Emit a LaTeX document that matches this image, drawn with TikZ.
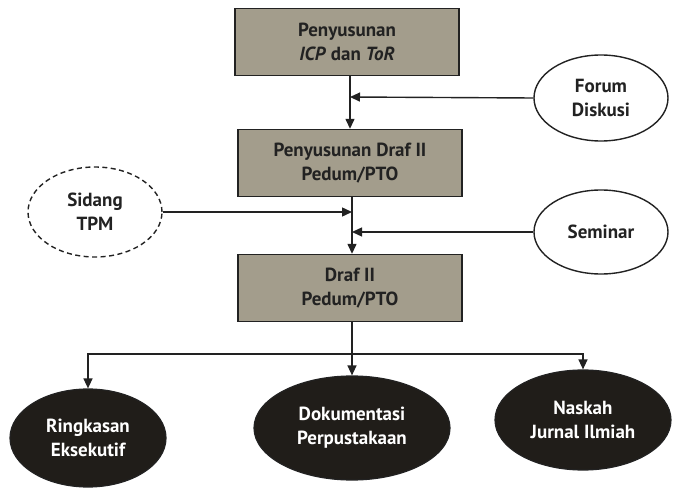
\documentclass[tikz,border=0pt]{standalone}
\usepackage{fontspec}
\setmainfont{PT Sans}
\usetikzlibrary{arrows.meta,shapes.geometric}
\definecolor{boxfill}{HTML}{A39D8C}
\definecolor{darkfill}{HTML}{201D19}
\definecolor{ink}{HTML}{222222}
\begin{document}
\begin{tikzpicture}[x=1pt,y=-1pt,
  lbl/.style={font=\bfseries\fontsize{19}{24}\selectfont},
  stagebox/.style={draw=ink,line width=1.4pt,fill=boxfill,minimum width=224pt,minimum height=67pt,
    align=center,lbl,text=ink,inner sep=0pt},
  inputell/.style={ellipse,draw=ink,line width=1.4pt,fill=white,align=center,
    lbl,text=ink,inner sep=0pt},
  outputell/.style={ellipse,draw=ink,line width=1.2pt,fill=darkfill,align=center,
    lbl,text=white,inner sep=0pt},
  flow/.style={draw=ink,line width=1.4pt},
  flowarr/.style={flow,-{Triangle[length=10pt,width=9pt]}}]
\useasboundingbox (0,0) rectangle (673,492);

% process boxes
\node[stagebox] (b1) at (347,42) {Penyusunan\\\textit{ICP} dan \textit{ToR}};
\node[stagebox] (b2) at (350,163) {Penyusunan Draf II\\Pedum/PTO};
\node[stagebox] (b3) at (350,288) {Draf II\\Pedum/PTO};

% inputs
\node[inputell,minimum width=134pt,minimum height=86pt] (fd) at (601,98) {Forum\\Diskusi};
\node[inputell,dash pattern=on 5pt off 3.5pt,minimum width=134pt,minimum height=90pt] (tpm) at (95,212) {Sidang\\TPM};
\node[inputell,minimum width=134pt,minimum height=84pt] (sem) at (601,232) {Seminar};

% outputs
\node[outputell,minimum width=156pt,minimum height=98pt] (o1) at (88,438) {Ringkasan\\Eksekutif};
\node[outputell,minimum width=196pt,minimum height=104pt] (o2) at (352,428) {Dokumentasi\\Perpustakaan};
\node[outputell,minimum width=176pt,minimum height=100pt] (o3) at (583,420) {Naskah\\Jurnal Ilmiah};

% main flow
\draw[flowarr] (b1.south -| 350,0) -- (b2.north -| 350,0);
\draw[flowarr] (b2.south -| 352,0) -- (b3.north -| 352,0);
\coordinate (j1) at (350,97);
\coordinate (j2) at (352,212);
\coordinate (j3) at (352,232);
\draw[flowarr] (fd.west) -- (j1);
\draw[flowarr] (tpm.east) -- (j2);
\draw[flowarr] (sem.west) -- (j3);

% distribution to outputs
\coordinate (split) at (352,354);
\draw[flow] (b3.south -| split) -- (split);
\draw[flowarr] (split) -| (o1.north);
\draw[flowarr] (split) -- (o2.north);
\draw[flowarr] (split) -| (o3.north);
\end{tikzpicture}
\end{document}
